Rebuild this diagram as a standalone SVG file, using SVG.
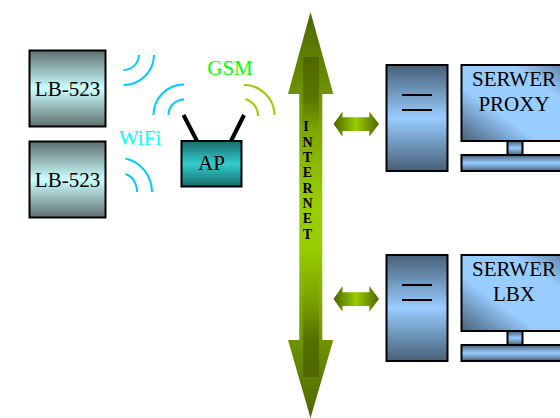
<svg xmlns="http://www.w3.org/2000/svg" width="560" height="418" viewBox="0 0 560 418">
<style>
text{font-family:"Liberation Serif","Times New Roman",serif;font-size:21px;fill:#000;text-anchor:middle}
.box{stroke:#000;stroke-width:2}
.ant{stroke:#000;stroke-width:4;fill:none}
.rule{stroke:#000;stroke-width:2;fill:none}
.blue{stroke:#00ccff;stroke-width:2;fill:none}
.grn{stroke:#99cc00;stroke-width:2;fill:none}
.ltr{font-size:14px;font-weight:bold}
</style>
<defs>
<linearGradient id="lb" x1="0" y1="0" x2="0" y2="1"><stop offset="0" stop-color="#5f6f6f"/><stop offset=".5" stop-color="#ccffff"/><stop offset="1" stop-color="#5f6f6f"/></linearGradient>
<linearGradient id="ap" x1="0" y1="0" x2="0" y2="1"><stop offset="0" stop-color="#176a6a"/><stop offset=".5" stop-color="#33cccc"/><stop offset="1" stop-color="#176a6a"/></linearGradient>
<linearGradient id="tw" x1="0" y1="0" x2="0" y2="1"><stop offset="0" stop-color="#466078"/><stop offset=".5" stop-color="#99ccff"/><stop offset="1" stop-color="#466078"/></linearGradient>
<linearGradient id="mon" x1="0" y1="1" x2="1" y2="0"><stop offset="0" stop-color="#466078"/><stop offset=".36" stop-color="#99ccff"/><stop offset=".74" stop-color="#99ccff"/><stop offset="1" stop-color="#5a7a9a"/></linearGradient>
<linearGradient id="sh" x1="0" y1="0" x2="1" y2="0"><stop offset="0" stop-color="#4d6600"/><stop offset=".5" stop-color="#99cc00"/><stop offset="1" stop-color="#4d6600"/></linearGradient>
<linearGradient id="iv" gradientUnits="userSpaceOnUse" x1="0" y1="94" x2="0" y2="340"><stop offset="0" stop-color="#6f9300"/><stop offset=".43" stop-color="#99cc00"/><stop offset=".63" stop-color="#99cc00"/><stop offset="1" stop-color="#6f9300"/></linearGradient>
<linearGradient id="hu" gradientUnits="userSpaceOnUse" x1="0" y1="12" x2="0" y2="94"><stop offset="0" stop-color="#4d6600"/><stop offset="1" stop-color="#6f9300"/></linearGradient>
<linearGradient id="hd" gradientUnits="userSpaceOnUse" x1="0" y1="418" x2="0" y2="340"><stop offset="0" stop-color="#4d6600"/><stop offset="1" stop-color="#6f9300"/></linearGradient>
<linearGradient id="band" gradientUnits="userSpaceOnUse" x1="0" y1="57" x2="0" y2="377"><stop offset="0" stop-color="#4d6600"/><stop offset=".134" stop-color="#5a7800"/><stop offset=".228" stop-color="#7da600"/><stop offset=".45" stop-color="#99cc00"/><stop offset=".6" stop-color="#99cc00"/><stop offset=".75" stop-color="#7ca500"/><stop offset=".885" stop-color="#557000"/><stop offset="1" stop-color="#4d6600"/></linearGradient>
</defs>
<g id="connectors">
<path class="blue" d="M123.500 70A15.500 15.500 0 0 0 139 55"/>
<path class="blue" d="M123.500 85A30.500 30.500 0 0 0 154 55"/>
<path class="blue" d="M125.500 174C132 176 137 183 137 192"/>
<path class="blue" d="M125.500 158.500C141 162 152 176 152 192"/>
<path class="blue" d="M168.500 115A15.500 15.500 0 0 1 184 99.500"/>
<path class="blue" d="M153.500 115A30.500 30.500 0 0 1 184 84.500"/>
<path class="grn" d="M245.500 99C252 101 258 107 258 116"/>
<path class="grn" d="M244 85A30.500 30.500 0 0 1 274.500 115"/>
<path class="ant" d="M183.500 115L197 141"/>
<path class="ant" d="M244 115L231 141"/>
<path fill="url(#sh)" d="M333.500 124L342.500 111.500V117.300H369.300V111.500L379 124L369.300 136.700V131H342.500V136.700Z"/>
<path fill="url(#sh)" d="M333.500 299L342.500 286V292.300H369.300V286L379 299L369.300 311.700V306H342.500V311.700Z"/>
</g>
<g id="internet">
<rect x="299.300" y="94" width="23" height="247" fill="url(#iv)"/>
<path fill="url(#hu)" d="M310.500 12L333.300 94H288Z"/>
<path fill="url(#hd)" d="M288 340H333.300L310.500 418Z"/>
<rect x="303" y="57" width="16" height="320" fill="url(#band)"/>
<text class="ltr" x="306" y="130.500">I</text>
<text class="ltr" x="307.500" y="146.700">N</text>
<text class="ltr" x="307.500" y="162">T</text>
<text class="ltr" x="307.500" y="177.300">E</text>
<text class="ltr" x="307.500" y="192.700">R</text>
<text class="ltr" x="307.500" y="208">N</text>
<text class="ltr" x="307.500" y="223.300">E</text>
<text class="ltr" x="307.500" y="239">T</text>
</g>
<g id="lb1"><rect class="box" x="29.500" y="50.500" width="76" height="76" fill="url(#lb)"/><text x="67.500" y="96">LB-523</text></g>
<g id="lb2"><rect class="box" x="29.500" y="141.500" width="76" height="76" fill="url(#lb)"/><text x="67.500" y="187">LB-523</text></g>
<g id="ap-node"><rect class="box" x="181.500" y="141" width="60" height="45.500" fill="url(#ap)"/><text x="211.500" y="170">AP</text></g>
<text x="140" y="145" style="fill:#00ffff">WiFi</text>
<text x="230" y="75" style="fill:#00ff00">GSM</text>
<g id="tower1"><rect class="box" x="386.500" y="65" width="61" height="106" fill="url(#tw)"/><path class="rule" d="M402 95H432M402 110H432"/></g>
<g id="tower2"><rect class="box" x="386.500" y="255" width="61" height="106" fill="url(#tw)"/><path class="rule" d="M402 285H432M402 300H432"/></g>
<g id="proxy">
<rect class="box" x="507.500" y="141" width="15" height="14" fill="url(#tw)"/>
<rect class="box" x="461.500" y="155" width="107" height="16" fill="url(#tw)"/>
<rect class="box" x="461.500" y="65" width="107" height="76" fill="url(#mon)"/>
<text x="514" y="85.500">SERWER</text><text x="514" y="110.500">PROXY</text>
</g>
<g id="lbx">
<rect class="box" x="507.500" y="331" width="15" height="14" fill="url(#tw)"/>
<rect class="box" x="461.500" y="345" width="107" height="16" fill="url(#tw)"/>
<rect class="box" x="461.500" y="255" width="107" height="76" fill="url(#mon)"/>
<text x="514" y="275.500">SERWER</text><text x="514" y="300.500">LBX</text>
</g>
</svg>
